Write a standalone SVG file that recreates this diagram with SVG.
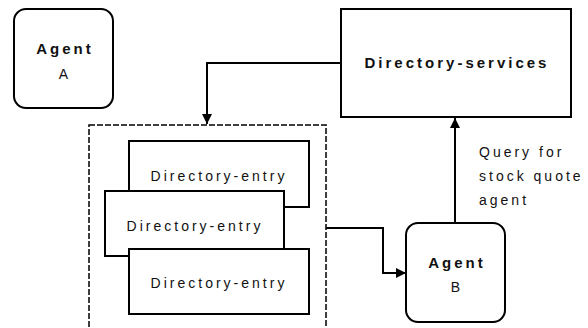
<svg xmlns="http://www.w3.org/2000/svg" width="588" height="328" viewBox="0 0 588 328">
<defs>
<style>
.box{fill:#fff;stroke:#000;stroke-width:2}
.t{font-family:"Liberation Sans",Arial,sans-serif;font-size:14px;letter-spacing:3px;fill:#111}
.b{font-family:"Liberation Sans",Arial,sans-serif;font-size:15px;font-weight:bold;letter-spacing:3px;fill:#111}
.c{fill:none;stroke:#000;stroke-width:2}
</style>
<marker id="ah" viewBox="0 0 10 10" refX="10" refY="5" markerWidth="11" markerHeight="10" markerUnits="userSpaceOnUse" orient="auto">
<path d="M0,0 L10,5 L0,10 Z" fill="#000"/>
</marker>
</defs>
<rect width="588" height="328" fill="#fff"/>
<g id="agentA">
<rect class="box" x="14" y="9" width="99" height="99" rx="12"/>
<text class="b" x="65" y="54" text-anchor="middle">Agent</text>
<text class="t" x="65" y="79" text-anchor="middle">A</text>
</g>
<g id="directory-services">
<rect class="box" x="341" y="9" width="230" height="108"/>
<text class="b" x="457" y="68" text-anchor="middle">Directory-services</text>
</g>
<g id="directory-container">
<rect x="89" y="125" width="237" height="220" fill="none" stroke="#000" stroke-width="1.5" stroke-dasharray="6,2"/>
</g>
<g id="entry1">
<rect class="box" x="129" y="141" width="180" height="66"/>
<text class="t" x="219" y="181" text-anchor="middle">Directory-entry</text>
</g>
<g id="entry2">
<rect class="box" x="105" y="191" width="179" height="65"/>
<text class="t" x="195" y="231" text-anchor="middle">Directory-entry</text>
</g>
<g id="entry3">
<rect class="box" x="129" y="249" width="180" height="65"/>
<text class="t" x="219" y="288" text-anchor="middle">Directory-entry</text>
</g>
<g id="agentB">
<rect class="box" x="406" y="223" width="99" height="99" rx="12"/>
<text class="b" x="457" y="268" text-anchor="middle">Agent</text>
<text class="t" x="457" y="292" text-anchor="middle">B</text>
</g>
<g id="label-query">
<text class="t" x="479" y="157">Query for</text>
<text class="t" x="479" y="181">stock quote</text>
<text class="t" x="479" y="205">agent</text>
</g>
<g id="connectors">
<path class="c" d="M341,63 H207 V124" marker-end="url(#ah)"/>
<path class="c" d="M326,228 H383 V273 H406" marker-end="url(#ah)"/>
<path class="c" d="M455,223 V118" marker-end="url(#ah)"/>
</g>
</svg>
